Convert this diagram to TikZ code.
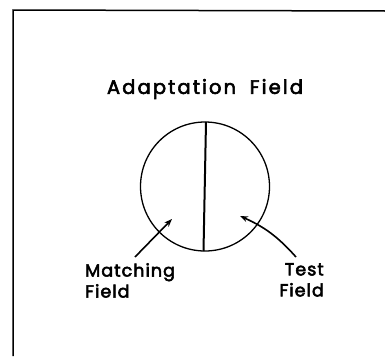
\documentclass[tikz,border=0pt]{standalone}
\usepackage{fontspec}
\newfontfamily\lettering[LetterSpace=11, FakeBold=3]{Poppins}
\newfontfamily\smalllettering[LetterSpace=6, FakeBold=3]{Poppins}
\usetikzlibrary{arrows.meta, positioning}

\begin{document}
\begin{tikzpicture}[
    x=1pt, y=-1pt,
    frame/.style={line width=1.5pt},
    title/.style={font=\lettering\fontsize{19.5}{22}\selectfont, inner sep=0pt},
    label/.style={font=\smalllettering\fontsize{17.5}{21}\selectfont, inner sep=0pt, align=left},
    divider/.style={line width=2pt},
    pointer/.style={-{Stealth[length=8pt,width=6pt]}, line width=1.6pt},
]
    \useasboundingbox (0,0) rectangle (385,359);
    \draw[frame] (13,356) -- (13,10) -- (385,11);

    \node[title] (head) at (205,89) {Adaptation\hspace{0.7em}Field};

    \draw[line width=1.3pt] (205,186.5) circle[radius=64.5];
    \coordinate (top) at (206,122);
    \coordinate (bot) at (203.5,251);
    \draw[divider] (top) -- (bot);

    \node[label, anchor=north west] (match) at (85,263) {Matching\\Field};
    \node[label, anchor=north east, align=right] (test) at (324,263) {Test\\Field};

    \coordinate (mstart) at (135,257);
    \coordinate (mtip) at (172,219);
    \coordinate (tstart) at (296,257);
    \coordinate (ttip) at (240,216);
    \draw[pointer] (mstart) -- (mtip);
    \draw[pointer] (tstart) to[bend right=12] (ttip);
\end{tikzpicture}
\end{document}
